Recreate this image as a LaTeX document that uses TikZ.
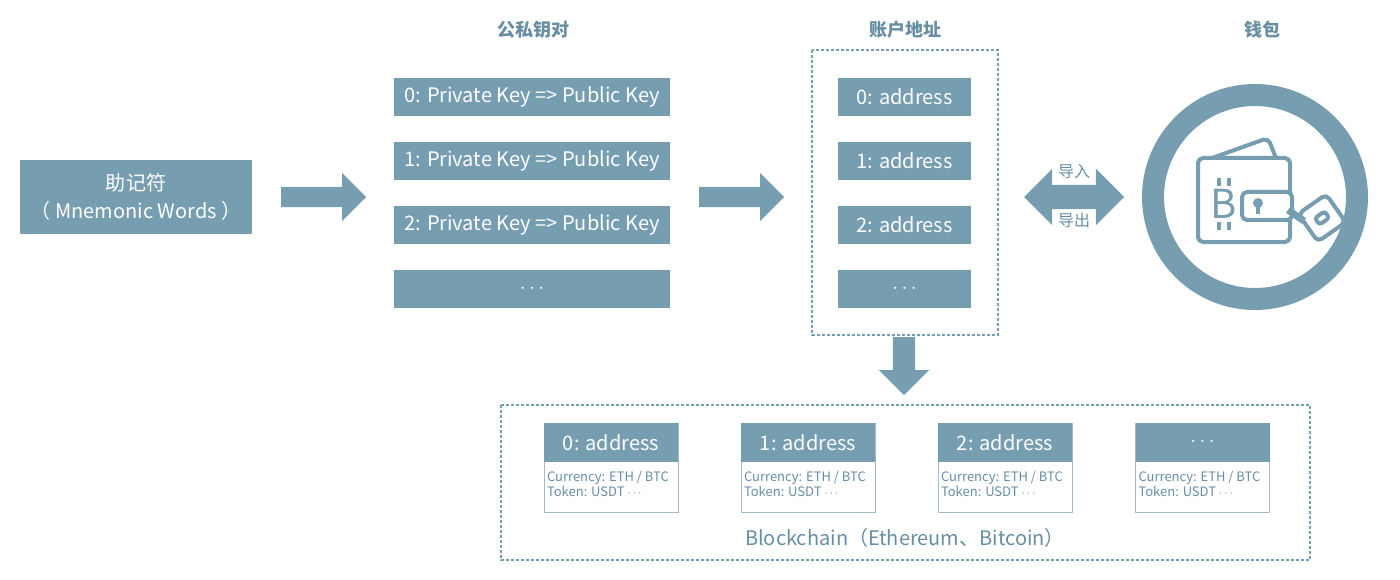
\documentclass[tikz,border=0pt]{standalone}
\usepackage{fontspec}
\setmainfont{Noto Sans CJK SC}
\usetikzlibrary{shapes.arrows,positioning}
\definecolor{steel}{RGB}{119,157,177}
\definecolor{steeltext}{RGB}{104,142,164}
\tikzset{
  box/.style={rectangle,fill=steel,text=white,minimum height=38,inner sep=0,font=\fontsize{20}{22}\selectfont},
  keybox/.style={box,minimum width=276},
  addrbox/.style={box,minimum width=133},
  card/.style={rectangle,draw=steel!70,line width=1,minimum width=134,minimum height=89,inner sep=0},
  cardhead/.style={rectangle,fill=steel,text=white,minimum width=134,minimum height=39,inner sep=0,font=\fontsize{20}{22}\selectfont},
  title/.style={text=steeltext,font=\fontsize{18}{20}\selectfont\bfseries},
  fatarrow/.style={single arrow,fill=steel,minimum height=85,minimum width=48,single arrow head extend=14,inner xsep=0,inner ysep=10,single arrow head indent=0},
  dashbox/.style={draw=steel,dash pattern=on 3 off 2,line width=1.2}
}
\begin{document}
\begin{tikzpicture}[x=1pt,y=-1pt]
\useasboundingbox(0,0)rectangle(1400,580);
%mnemonic
\node[box,minimum width=232,minimum height=74,align=center,font=\fontsize{20}{28}\selectfont](mnemonic)at(136,197){助记符\\（ Mnemonic Words ）};
%key pairs
\node[title](keytitle)at(533,30){公私钥对};
\node[keybox](key0)at(532,97){0: Private Key => Public Key};
\node[keybox](key1)at(532,161){1: Private Key => Public Key};
\node[keybox](key2)at(532,225){2: Private Key => Public Key};
\node[keybox](key3)at(532,289){$\cdots$};
%addresses
\node[title](addrtitle)at(905,30){账户地址};
\draw[dashbox](812,50)rectangle(998,335);
\foreach \i/\y/\t in {0/97/0: address,1/161/1: address,2/225/2: address,3/289/$\cdots$}
{
\node[addrbox](addr\i)at(904.5,\y){\t};
}
%wallet
\node[title](wallettitle)at(1262,30){钱包};
\node[circle,draw=steel,line width=22,minimum size=204](wallet)at(1255,197){};
\begin{scope}[steel,line width=4,rounded corners=5]
\draw(1198,158)rectangle(1290,242);
\draw(1212,158)--(1268,138)--(1276,158);
\draw[fill=white](1242,192)rectangle(1292,220);
\draw[fill=white,rotate around={35:(1322,218)}](1305,201)rectangle(1339,235);
\end{scope}
\draw[steel,line width=7](1288,210)--(1304,221);
\draw[steel,line width=4,rounded corners=3,rotate around={35:(1322,218)}](1316,214)rectangle(1328,222);
\node[text=steel,font=\fontsize{40}{40}\selectfont](btc)at(1224,204){B};
\draw[steel,line width=3.5](1219,178)--(1219,186)(1229,178)--(1229,186)(1219,222)--(1219,230)(1229,222)--(1229,230);
\node[circle,fill=steel,minimum size=10,inner sep=0](keyhole)at(1258,203){};
\draw[steel,line width=3.5](1258,203)--(1258,214);
%arrows
\node[fatarrow,anchor=tail](arr1)at(281,197){};
\node[fatarrow,anchor=tail](arr2)at(699,197){};
\node[fatarrow,rotate=-90,minimum height=58,inner ysep=11,anchor=tail](arr3)at(904,337){};
\node[double arrow,fill=steel,minimum height=100,minimum width=56,double arrow head extend=16,inner xsep=0,inner ysep=12,double arrow head indent=0](arr4)at(1074,197){};
\node[fill=white,inner sep=1,font=\fontsize{16}{18}\selectfont,text=steeltext](imp)at(1074,172){导入};
\node[fill=white,inner sep=1,font=\fontsize{16}{18}\selectfont,text=steeltext](exp)at(1074,220){导出};
%blockchain
\draw[dashbox](501,405)rectangle(1310,560);
\foreach \i/\x/\t in {0/611/0: address,1/808/1: address,2/1005/2: address,3/1202.5/$\cdots$}
{
\node[card](card\i)at(\x,467.5){};
\node[cardhead,below=0 of card\i.north](head\i){\t};
\node[align=left,text=steeltext,font=\fontsize{13}{15}\selectfont,anchor=north west,inner sep=0](info\i)at([shift={(3,9)}]head\i.south west){Currency: ETH / BTC\\Token: USDT $\cdots$};
}
\node[text=steeltext,font=\fontsize{20}{24}\selectfont](chain)at(905,538){Blockchain（Ethereum、Bitcoin）};
\end{tikzpicture}
\end{document}
